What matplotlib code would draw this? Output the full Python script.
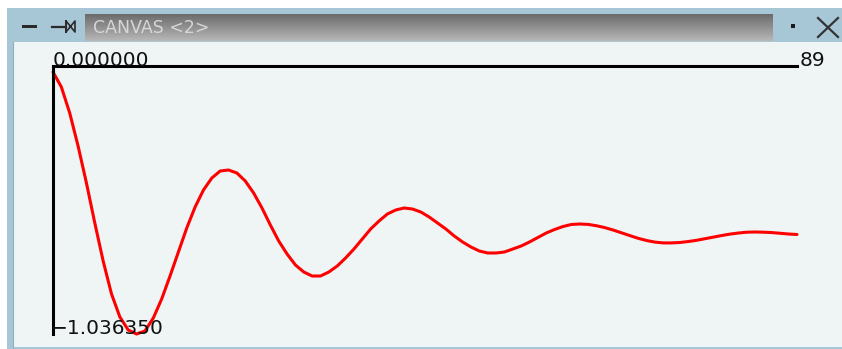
import numpy as np
import matplotlib.pyplot as plt
from matplotlib.patches import Rectangle
from matplotlib.transforms import offset_copy

# =========================================================
# DONNEES
# =========================================================

TITLE = "CANVAS <2>"
Y_TOP = 0.0
Y_BOTTOM = -1.03635
N_POINTS = 90

values = [
    -0.0232, -0.0812, -0.1817, -0.3094, -0.4524, -0.6071, -0.7541, -0.8817, -0.9706, -1.0209,
    -1.0364, -1.0247, -0.9745, -0.9010, -0.8121, -0.7193, -0.6265, -0.5452, -0.4795, -0.4331,
    -0.4060, -0.4022, -0.4138, -0.4447, -0.4911, -0.5491, -0.6148, -0.6767, -0.7270, -0.7695,
    -0.7966, -0.8121, -0.8121, -0.7966, -0.7734, -0.7425, -0.7077, -0.6690, -0.6303, -0.5994,
    -0.5723, -0.5568, -0.5491, -0.5530, -0.5646, -0.5839, -0.6071, -0.6303, -0.6574, -0.6806,
    -0.6999, -0.7154, -0.7231, -0.7231, -0.7193, -0.7077, -0.6961, -0.6806, -0.6632, -0.6458,
    -0.6323, -0.6207, -0.6129, -0.6110, -0.6125, -0.6176, -0.6249, -0.6342, -0.6450, -0.6558,
    -0.6663, -0.6748, -0.6810, -0.6841, -0.6841, -0.6825, -0.6787, -0.6740, -0.6678, -0.6617,
    -0.6555, -0.6500, -0.6458, -0.6427, -0.6419, -0.6427, -0.6442, -0.6469, -0.6497, -0.6516,
]
index = np.arange(N_POINTS)

# =========================================================
# FIGURE + FENETRE
# =========================================================

W, H = 842, 349
fig = plt.figure(figsize=(W / 100, H / 100), dpi=100)
fig.patch.set_facecolor("white")

chrome = fig.add_axes([0, 0, 1, 1])
chrome.set_xlim(0, W)
chrome.set_ylim(H, 0)
chrome.axis("off")

# cadre bleu + zone canvas
chrome.add_patch(Rectangle((7, 8), W - 7, H - 8, facecolor="#a7c7d7", edgecolor="none"))
chrome.add_patch(Rectangle((13, 42), W - 13, H - 44, facecolor="#eff5f5", edgecolor="none"))
chrome.plot([12.5, 12.5], [42, H], color="#8fb0c2", lw=0.8)

# barre de titre grise en degrade
grad = np.linspace(0.42, 0.72, 64).reshape(-1, 1)
chrome.imshow(grad, cmap="gray", vmin=0, vmax=1, aspect="auto",
              extent=[85, 773, 41, 14], zorder=2)
chrome.text(93, 28, TITLE, color="#d6d6d6", fontsize=12.5, va="center", ha="left",
            family="DejaVu Sans", zorder=3)

# icones
chrome.add_patch(Rectangle((22, 25), 15, 3, facecolor="#2a2a2a", edgecolor="none"))
chrome.plot([52, 66], [26.5, 26.5], color="#2a2a2a", lw=1.6)
chrome.plot([66, 66], [21, 32], color="#2a2a2a", lw=1.4)
chrome.plot([66, 75, 75, 66], [21, 32, 21, 32], color="#2a2a2a", lw=1.2)
chrome.add_patch(Rectangle((791, 24), 3.5, 4, facecolor="#1a1a1a", edgecolor="none"))
chrome.plot([818, 838], [18, 37], color="#333333", lw=1.6)
chrome.plot([818, 838], [37, 18], color="#333333", lw=1.6)

# =========================================================
# TABLEAU
# =========================================================

x0, x1 = 53, 797
y0, y1 = 66, 334
ax = fig.add_axes([x0 / W, (H - y1) / H, (x1 - x0) / W, (y1 - y0) / H])
ax.set_xlim(0, N_POINTS - 1)
ax.set_ylim(Y_BOTTOM, Y_TOP)
ax.patch.set_alpha(0)
for side in ["right", "bottom"]:
    ax.spines[side].set_visible(False)
for side in ["top", "left"]:
    ax.spines[side].set_color("black")
    ax.spines[side].set_linewidth(2.2)
ax.set_xticks([])
ax.set_yticks([])

ax.plot(index, values, color="#ff0000", lw=2.2, clip_on=False,
        solid_joinstyle="round", solid_capstyle="round")

ax.text(0, Y_TOP, f"{Y_TOP:.6f}", fontsize=14.5, ha="left", va="baseline",
        color="#111111", clip_on=False)
ax.text(N_POINTS - 1, Y_TOP, f"{N_POINTS - 1}",
        transform=offset_copy(ax.transData, fig=fig, x=3, y=0, units="dots"),
        fontsize=14.5, ha="left", va="baseline", color="#111111", clip_on=False)
# le signe moins sert de graduation
ax.text(0, Y_BOTTOM, f"{Y_BOTTOM:.6f}".replace("-", "\u2212"),
        transform=offset_copy(ax.transData, fig=fig, x=-2, y=0, units="dots"),
        fontsize=14.5, ha="left", va="baseline", color="#111111", clip_on=False)

fig.savefig("out.png", dpi=100)
